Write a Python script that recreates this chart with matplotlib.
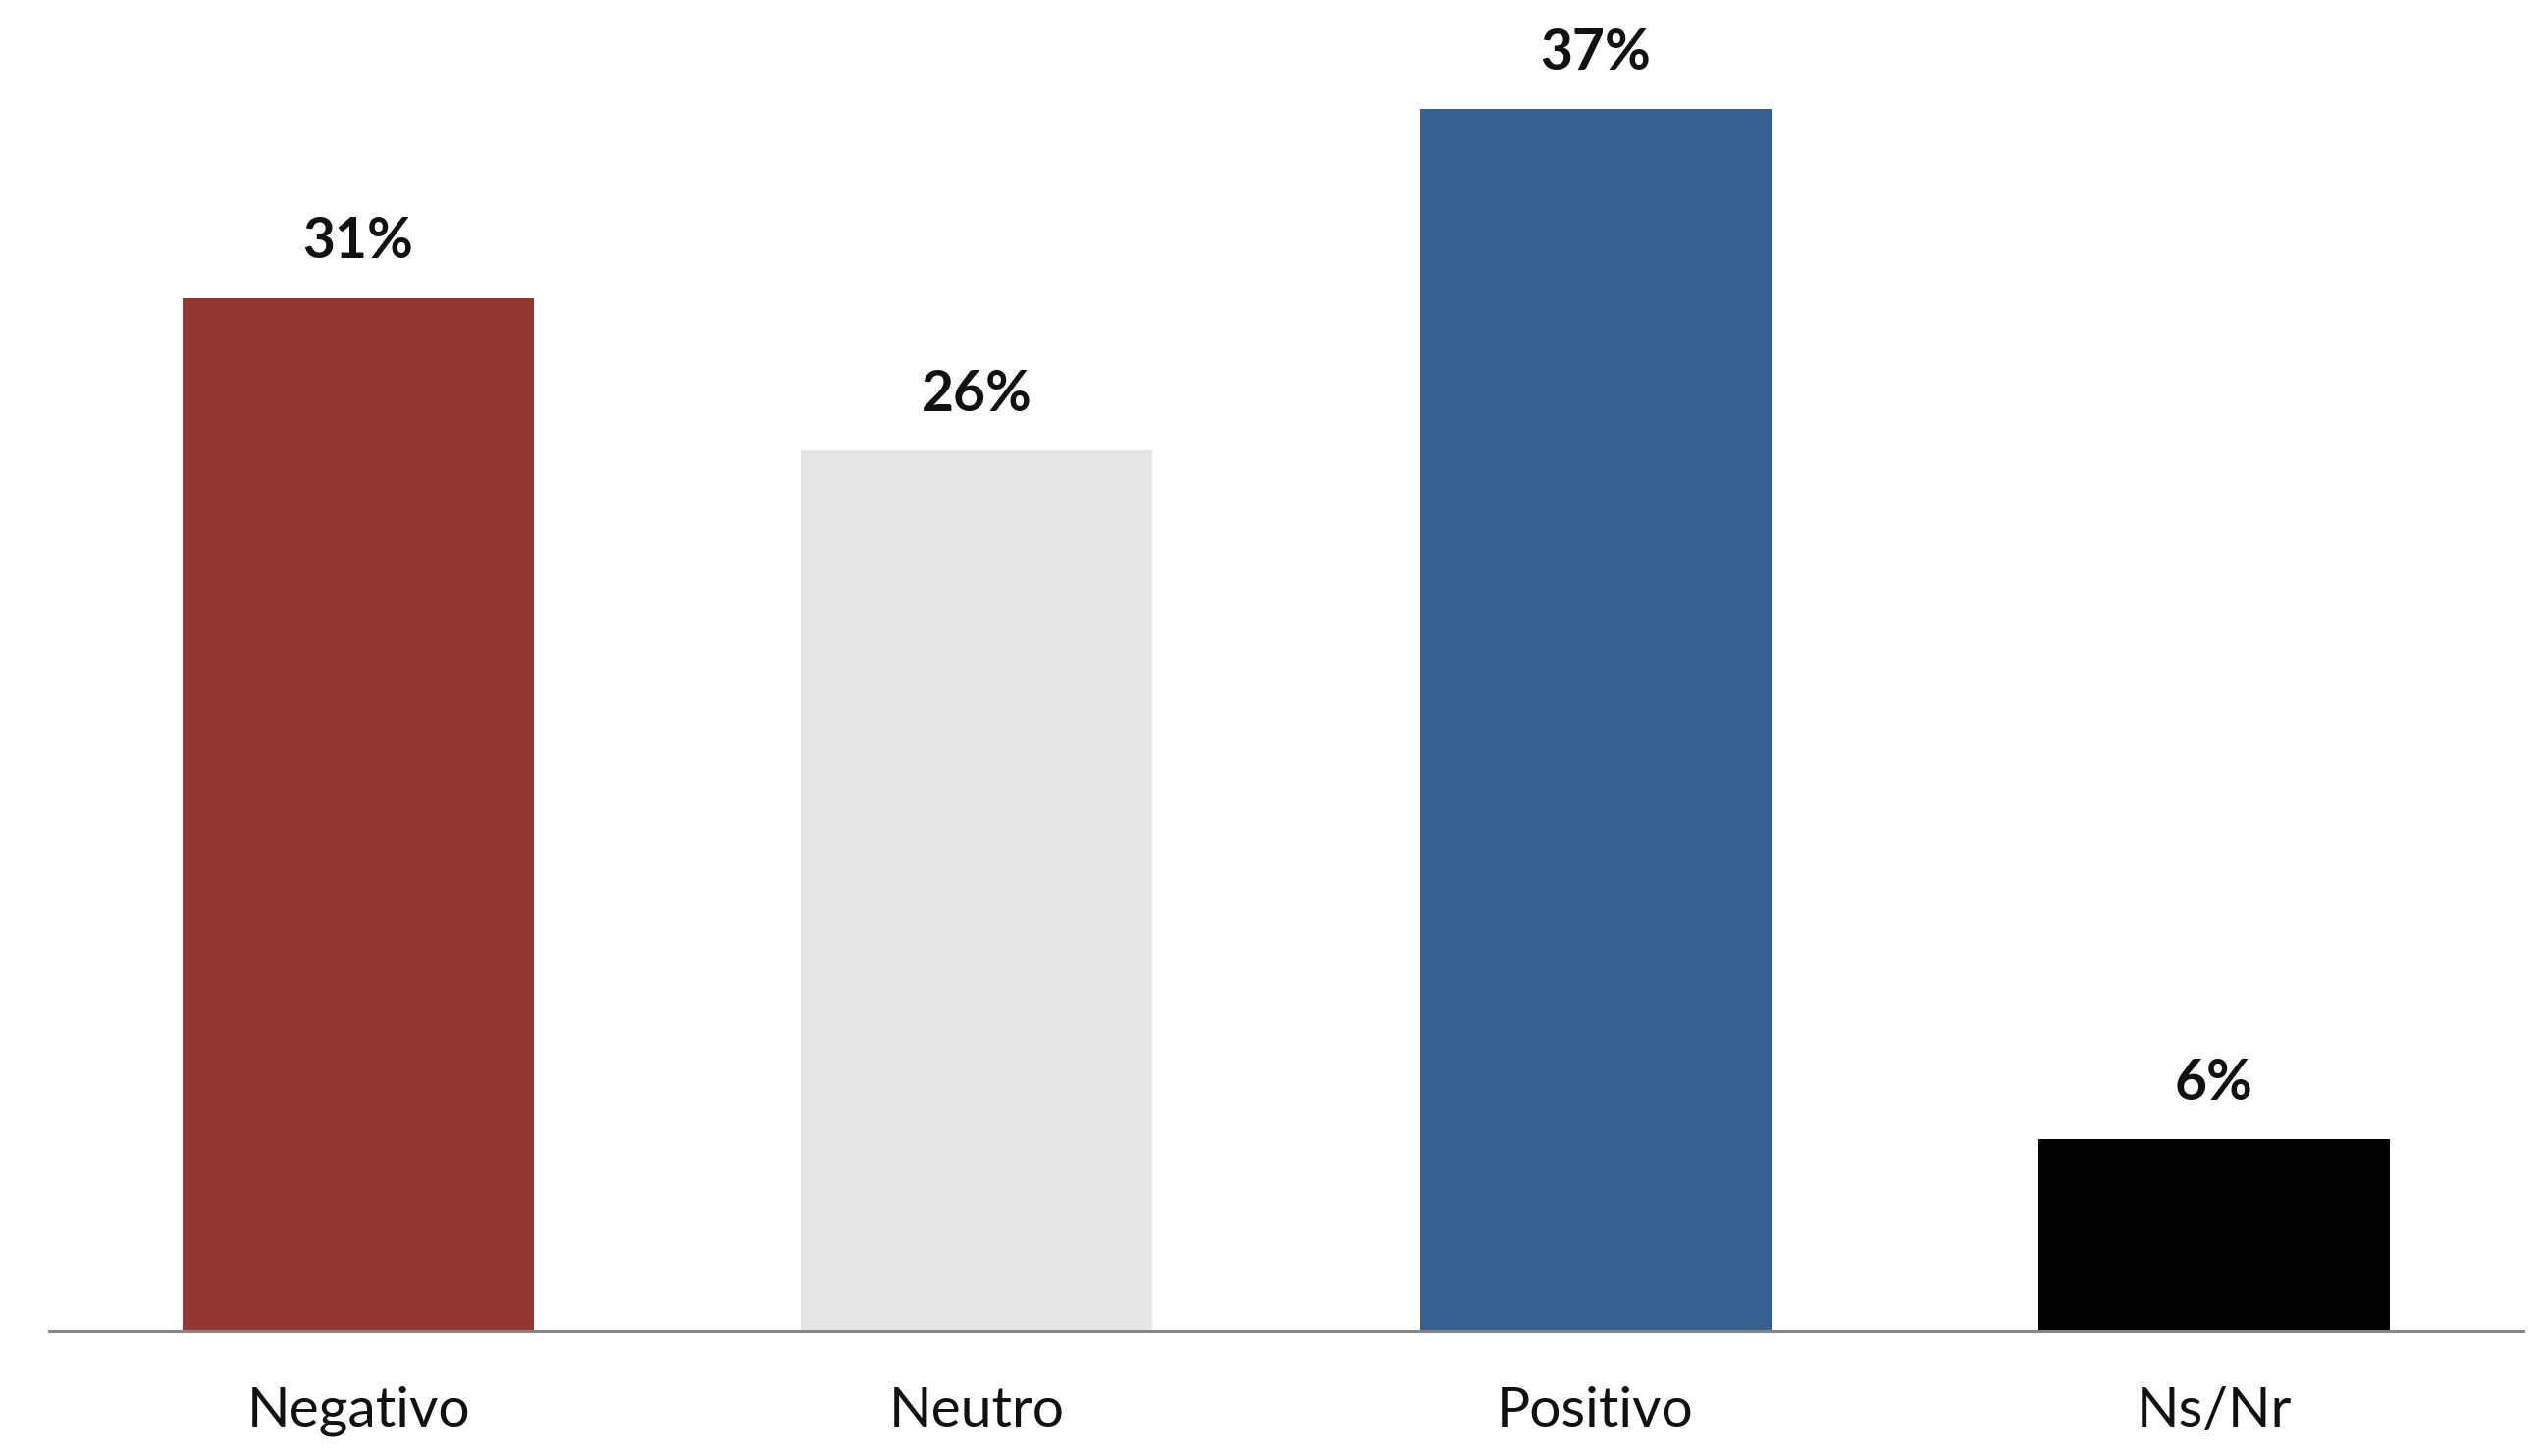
import matplotlib
matplotlib.use('Agg')
import matplotlib.pyplot as plt

# Data
categories = ['Negativo', 'Neutro', 'Positivo', 'Ns/Nr']
values = [31.2, 26.6, 36.9, 5.8]
labels = ['31%', '26%', '37%', '6%']
colors = ['#943634', '#e6e6e6', '#366092', '#000000']

plt.rcParams['font.family'] = ['Lato', 'DejaVu Sans']

fig = plt.figure(figsize=(25.88, 14.84), dpi=100)
ax = fig.add_axes([0.0193, 0.0856, 0.9741, 0.9144])

x = range(len(categories))
bars = ax.bar(x, values, width=0.568, color=colors, edgecolor='none')

for bar, lab in zip(bars, labels):
    ax.annotate(lab, (bar.get_x() + bar.get_width() / 2, bar.get_height()),
                xytext=(0, 22), textcoords='offset points',
                ha='center', va='bottom', fontsize=41, fontweight='bold',
                color='#111111')

ax.set_xlim(-0.5, 3.5)
ax.set_ylim(0, 40.2)
ax.set_xticks(list(x))
ax.set_xticklabels(categories, fontsize=41, color='#111111')
ax.tick_params(axis='x', length=0, pad=40)
ax.set_yticks([])

for side in ['top', 'right', 'left']:
    ax.spines[side].set_visible(False)
ax.spines['bottom'].set_color('#868686')
ax.spines['bottom'].set_linewidth(2.2)

fig.savefig('out.png', dpi=100)
